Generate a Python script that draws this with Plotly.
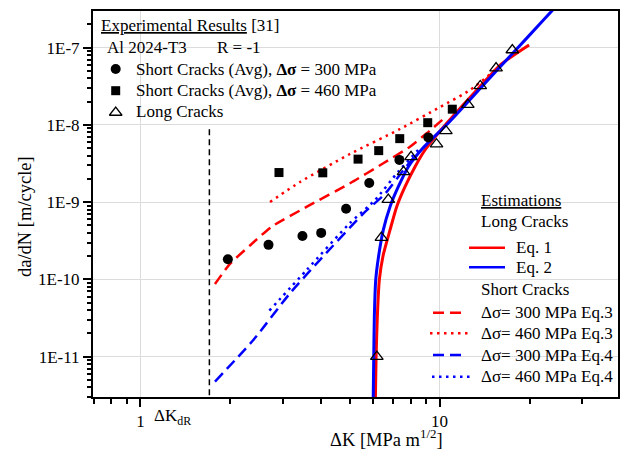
import math
import plotly.graph_objects as go

# ---------------- data ----------------
# Experimental results [31]
sc300_dk = [1.96, 2.68, 3.48, 4.02, 4.87, 5.82, 7.34, 9.17]
sc300_dadn = [1.82e-10, 2.80e-10, 3.64e-10, 4.0e-10, 8.2e-10, 1.77e-9, 3.53e-9, 6.9e-9]

sc460_dk = [2.905, 4.07, 5.34, 6.26, 7.36, 9.13, 11.03]
sc460_dadn = [2.42e-9, 2.40e-9, 3.61e-9, 4.65e-9, 6.65e-9, 1.07e-8, 1.60e-8]

lc_dk = [6.17, 6.39, 6.74, 7.58, 8.03, 9.77, 10.50, 12.43, 13.68, 15.45, 17.51]
lc_dadn = [1.0e-11, 3.48e-10, 1.08e-9, 2.47e-9, 3.86e-9, 5.63e-9, 8.36e-9,
           1.83e-8, 3.2e-8, 5.46e-8, 9.34e-8]

# Estimations - long cracks
eq1_dk = [6.10, 6.135, 6.194, 6.29, 6.471, 6.83, 7.19, 7.667, 8.28, 8.94, 9.66,
          11.10, 13.66, 15.94, 19.92]
eq1_dadn = [2.7e-12, 9.82e-12, 3.29e-11, 9.84e-11, 2.01e-10, 4.37e-10, 8.74e-10,
            1.587e-9, 2.88e-9, 4.74e-9, 6.98e-9, 1.306e-8, 3.15e-8, 5.97e-8, 1.084e-7]

eq2_dk = [6.0, 6.025, 6.053, 6.118, 6.242, 6.486, 6.83, 7.28, 7.866, 8.74, 10.84,
          14.01, 17.66, 22.25, 27.33]
eq2_dadn = [2.7e-12, 9.82e-12, 3.29e-11, 9.84e-11, 1.895e-10, 4.37e-10, 8.74e-10,
            1.587e-9, 2.88e-9, 4.88e-9, 1.118e-8, 3.29e-8, 8.67e-8, 2.28e-7, 5.42e-7]

# Estimations - short cracks
eq3_300_dk = [1.775, 1.992, 2.324, 2.747, 3.64, 5.02, 6.486, 7.965, 9.06, 10.57]
eq3_300_dadn = [8.73e-11, 1.585e-10, 2.75e-10, 4.82e-10, 8.93e-10, 1.757e-9, 3.19e-9,
                5.23e-9, 7.8e-9, 1.306e-8]

eq3_460_dk = [2.711, 3.416, 5.02, 7.38, 10.04, 12.65, 15.33]
eq3_460_dadn = [1.006e-9, 1.826e-9, 4.21e-9, 8.86e-9, 1.708e-8, 2.83e-8, 5.14e-8]

eq4_300_dk = [1.775, 2.384, 3.162, 4.04, 5.63, 6.57, 7.67, 8.48]
eq4_300_dadn = [4.75e-12, 1.64e-11, 6.62e-11, 1.90e-10, 7.47e-10, 1.28e-9, 2.77e-9, 4.47e-9]

eq4_460_dk = [2.697, 3.597, 5.02, 6.09, 7.26, 8.48]
eq4_460_dadn = [3.94e-11, 1.33e-10, 5.38e-10, 1.07e-9, 2.46e-9, 4.74e-9]

# threshold marker
dk_dR = 1.70
dk_dR_span = [8.8e-9, 2e-12]

# axis ticks
x_tickvals = [1, 10]
x_ticktext = ["1", "10"]
y_tickvals = [1e-11, 1e-10, 1e-9, 1e-8, 1e-7]
y_ticktext = ["1E-11", "1E-10", "1E-9", "1E-8", "1E-7"]

# ---------------- styling ----------------
FONT = "Liberation Serif"
RED = "#ff0000"
BLUE = "#0000ff"
DASH = "11px,6px"
DOT = "2.5px,4.5px"

# plot area in pixels
PL, PR, PT, PB = 93, 618, 11, 397
W, H = 622, 449

fig = go.Figure()

def curve(x, y, color, dash, width):
    fig.add_trace(go.Scatter(x=x, y=y, mode="lines",
                             line=dict(color=color, width=width, dash=dash,
                                       shape="spline", smoothing=0.6),
                             hoverinfo="skip"))

# threshold line
fig.add_trace(go.Scatter(x=[dk_dR, dk_dR], y=dk_dR_span, mode="lines",
                         line=dict(color="black", width=1.5, dash="6px,4px")))

curve(eq3_300_dk, eq3_300_dadn, RED, DASH, 2.5)
curve(eq3_460_dk, eq3_460_dadn, RED, DOT, 2.5)
curve(eq4_300_dk, eq4_300_dadn, BLUE, DASH, 2.5)
curve(eq4_460_dk, eq4_460_dadn, BLUE, DOT, 2.5)
curve(eq1_dk, eq1_dadn, RED, "solid", 3)
curve(eq2_dk, eq2_dadn, BLUE, "solid", 3)

fig.add_trace(go.Scatter(x=sc300_dk, y=sc300_dadn, mode="markers",
                         marker=dict(symbol="circle", size=10, color="black")))
fig.add_trace(go.Scatter(x=sc460_dk, y=sc460_dadn, mode="markers",
                         marker=dict(symbol="square", size=9, color="black")))
fig.add_trace(go.Scatter(x=lc_dk, y=lc_dadn, mode="markers",
                         marker=dict(symbol="triangle-up-open", size=11, color="black",
                                     line=dict(width=1.3, color="black"))))

# ---------------- manual legends on a pixel overlay axis ----------------
L = dict(xaxis="x2", yaxis="y2", hoverinfo="skip")
fig.add_trace(go.Scatter(x=[115.7], y=[69], mode="markers",
                         marker=dict(symbol="circle", size=10, color="black"), **L))
fig.add_trace(go.Scatter(x=[115.7], y=[90.7], mode="markers",
                         marker=dict(symbol="square", size=9, color="black"), **L))
fig.add_trace(go.Scatter(x=[115.7], y=[112.5], mode="markers",
                         marker=dict(symbol="triangle-up-open", size=11, color="black",
                                     line=dict(width=1.3, color="black")), **L))

def sample(x0, x1, y, color, dash, width):
    fig.add_trace(go.Scatter(x=[x0, x1], y=[y, y], mode="lines",
                             line=dict(color=color, width=width, dash=dash), **L))

sample(469, 505, 247.7, RED, "solid", 2.5)
sample(469, 505, 267.3, BLUE, "solid", 2.5)
sample(433, 465, 312.7, RED, DASH, 2.5)
sample(430, 468, 333.3, RED, DOT, 2.5)
sample(433, 465, 355, BLUE, DASH, 2.5)
sample(432, 470, 376.7, BLUE, DOT, 2.5)

ann = []
def txt(px, py, s, size=17, xanchor="left", **kw):
    ann.append(dict(x=(px - PL) / (PR - PL), y=(PB - py) / (PB - PT),
                    xref="paper", yref="paper", text=s, showarrow=False,
                    xanchor=xanchor, yanchor="middle",
                    font=dict(family=FONT, size=size, color="black"), **kw))

txt(99, 25.7, "<u>Experimental Results</u> [31]")
txt(105, 47.7, "Al 2024-T3")
txt(215, 47.7, "R = -1")
txt(134, 69, "Short Cracks (Avg), <b>Δσ</b> = 300 MPa")
txt(134, 90.7, "Short Cracks (Avg), <b>Δσ</b> = 460 MPa")
txt(134, 111.7, "Long Cracks")

txt(479, 200.7, "<u>Estimations</u>")
txt(479, 221.7, "Long Cracks")
txt(514, 247.7, "Eq. 1")
txt(514, 267.3, "Eq. 2")
txt(479, 289.3, "Short Cracks")
txt(479, 312.7, "Δσ= 300 MPa Eq.3")
txt(479, 333.3, "Δσ= 460 MPa Eq.3")
txt(479, 355, "Δσ= 300 MPa Eq.4")
txt(479, 376.7, "Δσ= 460 MPa Eq.4")

# axis titles and threshold label
txt(152, 417, "ΔK<sub>dR</sub>")
txt(386, 437.5, "ΔK [MPa m<sup>1/2</sup>]", size=18.5, xanchor="center")
txt(25, 217, "da/dN [m/cycle]", size=18.5, xanchor="center", textangle=-90)

# ---------------- axes ----------------
x_minor = [v * 10 ** e for e in (-1, 0, 1) for v in range(2, 10) if 0.69 < v * 10 ** e < 40]
y_minor = [v * 10.0 ** e for e in range(-12, -6) for v in range(2, 10)
           if 3e-12 <= v * 10.0 ** e <= 3e-7]

axis_common = dict(type="log", ticks="outside", ticklen=8, tickwidth=1.5,
                   tickcolor="black", linecolor="black", linewidth=2, mirror=True,
                   showgrid=True, gridcolor="#dcdcdc", gridwidth=1, zeroline=False,
                   tickfont=dict(family=FONT, size=17, color="black"))

fig.update_layout(
    width=W, height=H,
    margin=dict(l=PL, r=W - PR, t=PT, b=H - PB, autoexpand=False),
    paper_bgcolor="white", plot_bgcolor="white",
    showlegend=False,
    font=dict(family=FONT, size=17, color="black"),
    xaxis=dict(range=[math.log10(0.694), math.log10(39.5)],
               tickvals=x_tickvals, ticktext=x_ticktext, automargin=False,
               minor=dict(tickvals=x_minor, ticks="outside", ticklen=5, tickwidth=1.5,
                          tickcolor="black", showgrid=False),
               **axis_common),
    yaxis=dict(range=[math.log10(3.0e-12), math.log10(2.99e-7)],
               tickvals=y_tickvals, ticktext=y_ticktext, automargin=False,
               minor=dict(tickvals=y_minor, ticks="outside", ticklen=4.5, tickwidth=1.5,
                          tickcolor="black", showgrid=False),
               **axis_common),
    xaxis2=dict(overlaying="x", range=[PL, PR], visible=False, fixedrange=True),
    yaxis2=dict(overlaying="y", range=[PB, PT], visible=False, fixedrange=True),
    annotations=ann,
)

fig.write_html(
    "out.html",
    config={"displayModeBar": False},
    post_script="document.body.style.margin='0';document.body.style.padding='0';"
                "document.body.style.overflow='hidden';",
)
